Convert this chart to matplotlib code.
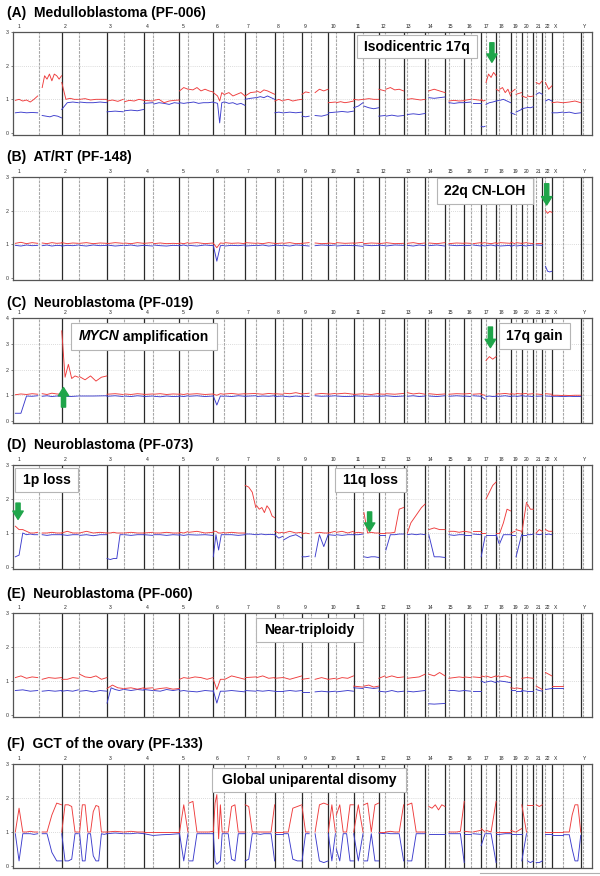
import matplotlib
matplotlib.use('Agg')
import matplotlib.pyplot as plt
from matplotlib.patches import Rectangle
from matplotlib.text import Annotation
import numpy as np

plt.rcParams['font.family'] = ['Liberation Sans', 'DejaVu Sans']

# ---------------- genome layout (Mb) ----------------
CHROMS = ['1', '2', '3', '4', '5', '6', '7', '8', '9', '10', '11', '12', '13',
          '14', '15', '16', '17', '18', '19', '20', '21', '22', 'X', 'Y']
LENGTHS = [249, 243, 198, 191, 181, 171, 159, 146, 141, 136, 135, 134, 115,
           107, 103, 90, 81, 78, 59, 63, 48, 51, 155, 59]
CENTROMERES = [125, 93, 91, 50, 48, 59, 60, 45, 49, 40, 53, 35, 17,
               17, 19, 36, 24, 17, 26, 28, 13, 15, 60, 12]
P_END = [121, 90, 88, 48, 46, 58, 58, 43, 39, 39, 51, 34, 0,
         0, 0, 35, 22, 15, 24, 26, 0, 0, 58, 10]
Q_START = [144, 96, 94, 53, 50, 62, 62, 48, 70, 43, 55, 38, 19,
           19, 20, 46, 26, 19, 28, 30, 14, 16, 62, 14]

# ---------------- series: chromosome -> (p-arm values, q-arm values) ----------------
A_RED = {
    '1': ([0.97, 1.0, 0.95, 0.98, 0.92, 1.0, 1.1], [1.35, 1.7, 1.6, 1.75, 1.55, 1.75, 1.7, 1.6, 1.7]),
    '2': ([1.5, 1.0, 1.03, 1.0, 1.0], [1.0, 1.02, 0.98, 1.0, 1.0, 1.0]),
    '3': ([0.95, 0.98, 0.94, 1.0], [0.93, 0.97, 0.95, 1.0, 0.97]),
    '4': ([0.97, 0.95], [0.97, 1.0, 0.9, 0.95, 0.97, 0.98]),
    '5': ([1.25, 1.35, 1.3], [1.3, 1.28, 1.35, 1.25, 1.3, 1.25, 1.22]),
    '6': ([1.2, 1.15, 1.1, 0.95, 1.2, 1.15], [1.15, 1.2, 1.1, 1.15, 1.2, 1.1]),
    '7': ([1.1, 1.2, 1.22], [1.25, 1.2, 1.28, 1.25, 1.2, 1.15]),
    '8': ([0.95, 1.0, 0.95], [0.97, 1.0, 0.95, 0.98, 1.0]),
    '9': ([1.15, 1.22, 1.2], [1.2, 1.3, 1.25, 1.3]),
    '10': ([0.9, 0.92], [0.9, 0.93, 0.9, 0.92, 0.95]),
    '11': ([1.0, 0.98, 1.0], [1.0, 1.02, 1.0, 1.0]),
    '12': ([1.3, 1.25], [1.3, 1.35, 1.28, 1.3, 1.25]),
    '13': ([], [1.0, 1.02, 1.0, 0.98, 1.0]),
    '14': ([], [1.25, 1.3, 1.25, 1.2]),
    '15': ([], [0.95, 0.97, 0.95, 0.96]),
    '16': ([0.97, 1.0], [1.0, 0.97]),
    '17': ([1.0, 0.95, 0.97], [1.5, 1.75, 1.65, 1.8, 1.7]),
    '18': ([1.3, 1.25], [1.3, 1.35, 1.2, 1.3, 1.1]),
    '19': ([1.2, 1.3], [1.15, 1.2]),
    '20': ([1.1, 1.05], [1.1, 1.08, 1.1]),
    '21': ([], [1.5, 1.45, 1.55]),
    '22': ([], [1.5, 1.3, 1.4]),
    'X': ([0.9, 0.92, 0.9], [0.9, 0.92, 0.95, 0.9]),
}
A_BLUE = {
    '1': ([0.6, 0.62, 0.6, 0.61, 0.6], [0.52, 0.5, 0.48, 0.52, 0.5, 0.45]),
    '2': ([0.7, 0.9, 0.92, 0.9], [0.92, 0.9, 0.9, 0.92, 0.9]),
    '3': ([0.63, 0.65, 0.63], [0.66, 0.68, 0.66, 0.7]),
    '4': ([0.88, 0.9], [0.86, 0.9, 0.88, 0.85, 0.9, 0.88]),
    '5': ([0.9, 0.88, 0.9], [0.9, 0.92, 0.88, 0.9, 0.9, 0.92]),
    '6': ([0.9, 0.9, 0.88, 0.3, 0.9, 0.92], [0.92, 0.88, 0.9, 0.85, 0.88, 0.82]),
    '7': ([1.0, 1.03, 1.05], [1.05, 1.08, 1.05, 1.1, 1.05, 1.0]),
    '8': ([0.6, 0.62, 0.6], [0.6, 0.62, 0.6, 0.62]),
    '9': ([0.5, 0.48, 0.5], [0.52, 0.5, 0.55]),
    '10': ([0.6, 0.62], [0.62, 0.64, 0.62, 0.65]),
    '11': ([0.75, 0.8, 0.9], [0.8, 0.75, 0.72, 0.75]),
    '12': ([0.5, 0.52], [0.5, 0.53, 0.5, 0.52]),
    '13': ([], [0.55, 0.57, 0.55, 0.58]),
    '14': ([], [1.05, 1.03, 1.05, 1.07]),
    '15': ([], [0.9, 0.88, 0.9, 0.9]),
    '16': ([0.9, 0.92], [0.9, 0.9]),
    '17': ([0.2, 0.18, 0.2], [0.85, 0.9, 0.92, 0.95]),
    '18': ([0.95, 0.97], [0.97, 1.0, 0.95, 0.9]),
    '19': ([0.6, 0.55], [0.62, 0.7]),
    '20': ([0.72, 0.75], [0.76, 0.75, 0.78]),
    '21': ([], [1.15, 1.2, 1.15]),
    '22': ([], [0.95, 1.0, 0.95]),
    'X': ([0.6, 0.6, 0.62], [0.6, 0.62, 0.58, 0.6]),
}

B_RED = {
    '1': ([1.03, 1.06, 1.02, 1.05, 1.03], [1.04, 1.02, 1.05, 1.03, 1.04]),
    '2': ([1.05, 1.02, 1.04, 1.03], [1.03, 1.05, 1.02, 1.04, 1.03]),
    '3': ([1.02, 1.05, 1.03], [1.04, 1.02, 1.05, 1.03]),
    '4': ([1.03, 1.05], [1.02, 1.04, 1.02, 1.03, 1.02]),
    '5': ([1.04, 1.02, 1.05], [1.03, 1.05, 1.02, 1.04]),
    '6': ([1.03, 0.9, 1.04, 1.03], [1.05, 1.03, 1.04, 1.02]),
    '7': ([1.05, 1.03], [1.04, 1.02, 1.05, 1.03]),
    '8': ([1.02, 1.04], [1.03, 1.05, 1.02, 1.03]),
    '9': ([1.03, 1.05], [1.04, 1.02, 1.03]),
    '10': ([1.04, 1.02], [1.05, 1.03, 1.04]),
    '11': ([1.03, 1.06], [1.02, 1.04, 1.03]),
    '12': ([1.02, 1.04], [1.05, 1.02, 1.03]),
    '13': ([], [1.03, 1.05, 1.02, 1.04]),
    '14': ([], [1.04, 1.02, 1.05]),
    '15': ([], [1.02, 1.04, 1.03]),
    '16': ([1.04, 1.03], [1.02, 1.05]),
    '17': ([1.03, 1.05], [1.04, 1.02, 1.05]),
    '18': ([1.02, 1.04], [1.05, 1.03]),
    '19': ([1.06, 1.02], [1.05, 1.03]),
    '20': ([1.03, 1.05], [1.04, 1.02]),
    '21': ([], [1.02, 1.03]),
    '22': ([], [2.0, 1.92, 1.98, 1.95]),
}
B_BLUE = {
    '1': ([0.97, 0.95, 0.98, 0.96, 0.97], [0.96, 0.98, 0.95, 0.97, 0.96]),
    '2': ([0.95, 0.97, 0.96, 0.98], [0.97, 0.95, 0.98, 0.96, 0.97]),
    '3': ([0.98, 0.95, 0.97], [0.96, 0.98, 0.95, 0.97]),
    '4': ([0.97, 0.95], [0.98, 0.96, 0.95, 0.97, 0.96]),
    '5': ([0.96, 0.98, 0.95], [0.97, 0.95, 0.98, 0.96]),
    '6': ([0.97, 0.5, 0.96, 0.97], [0.95, 0.97, 0.96, 0.98]),
    '7': ([0.95, 0.97], [0.96, 0.98, 0.95, 0.97]),
    '8': ([0.98, 0.96], [0.97, 0.95, 0.98, 0.97]),
    '9': ([0.97, 0.95], [0.96, 0.98, 0.97]),
    '10': ([0.96, 0.98], [0.95, 0.97, 0.96]),
    '11': ([0.97, 0.94], [0.98, 0.96, 0.97]),
    '12': ([0.98, 0.96], [0.95, 0.98, 0.97]),
    '13': ([], [0.97, 0.95, 0.98, 0.96]),
    '14': ([], [0.96, 0.98, 0.95]),
    '15': ([], [0.98, 0.96, 0.97]),
    '16': ([0.96, 0.97], [0.98, 0.95]),
    '17': ([0.97, 0.95], [0.96, 0.98, 0.95]),
    '18': ([0.98, 0.96], [0.95, 0.97]),
    '19': ([0.94, 0.98], [0.95, 0.97]),
    '20': ([0.97, 0.95], [0.96, 0.98]),
    '21': ([], [0.98, 0.97]),
    '22': ([], [0.35, 0.2, 0.18, 0.2]),
}

C_RED = {
    '1': ([1.02, 1.05, 1.03, 1.06, 1.04], [1.06, 1.03, 1.08, 1.05, 1.04]),
    '2': ([3.5, 1.7, 2.2, 1.65, 1.75, 1.7], [1.72, 1.6, 1.75, 1.55, 1.7, 1.75]),
    '3': ([1.04, 1.06, 1.03], [1.05, 1.03, 1.06, 1.04]),
    '4': ([1.03, 1.05], [1.04, 1.06, 1.03, 1.05, 1.04]),
    '5': ([1.05, 1.03, 1.06], [1.04, 1.06, 1.03, 1.05]),
    '6': ([1.04, 1.0, 1.06, 1.04], [1.05, 1.07, 1.04, 1.06]),
    '7': ([1.05, 1.07], [1.06, 1.04, 1.07, 1.05]),
    '8': ([1.06, 1.04], [1.08, 1.06, 1.1, 1.05]),
    '9': ([1.05, 1.08], [1.04, 1.07, 1.05]),
    '10': ([1.04, 1.07], [1.05, 1.08, 1.04]),
    '11': ([1.03, 1.06], [1.05, 1.03, 1.07]),
    '12': ([1.05, 1.04], [1.06, 1.04, 1.07]),
    '13': ([], [1.1, 1.05, 1.08, 1.04]),
    '14': ([], [1.06, 1.03, 1.05]),
    '15': ([], [1.04, 1.06, 1.05]),
    '16': ([1.05, 1.07], [1.04, 1.06]),
    '17': ([1.03, 1.0], [2.35, 2.5, 2.4, 2.5]),
    '18': ([1.04, 1.06], [1.05, 1.07, 1.04]),
    '19': ([1.06, 1.04], [1.07, 1.05]),
    '20': ([1.05, 1.07], [1.04, 1.06]),
    '21': ([], [1.05, 1.03]),
    '22': ([], [1.06, 1.04]),
    'X': ([1.0, 1.0, 0.99], [1.0, 0.99, 1.0, 1.0]),
}
C_BLUE = {
    '1': ([0.3, 0.3, 0.97, 0.96, 0.98], [0.96, 0.98, 0.95, 0.97, 0.96]),
    '2': ([0.97, 0.95, 0.97], [0.97, 0.97, 0.98]),
    '3': ([0.96, 0.98, 0.95], [0.97, 0.95, 0.98, 0.96]),
    '4': ([0.95, 0.97], [0.96, 0.94, 0.97, 0.95, 0.96]),
    '5': ([0.97, 0.95, 0.98], [0.96, 0.98, 0.95, 0.97]),
    '6': ([0.97, 0.62, 0.97, 0.96], [0.97, 0.95, 0.98, 0.96]),
    '7': ([0.96, 0.98], [0.95, 0.97, 0.96, 0.98]),
    '8': ([0.95, 0.97], [0.96, 0.94, 0.97, 0.95]),
    '9': ([0.97, 0.95], [0.98, 0.96, 0.97]),
    '10': ([0.96, 0.98], [0.97, 0.95, 0.96]),
    '11': ([0.98, 0.96], [0.95, 0.97, 0.96]),
    '12': ([0.96, 0.97], [0.98, 0.95, 0.97]),
    '13': ([], [0.96, 0.98, 0.95, 0.97]),
    '14': ([], [0.97, 0.95, 0.98]),
    '15': ([], [0.96, 0.98, 0.96]),
    '16': ([0.97, 0.95], [0.98, 0.96]),
    '17': ([0.95, 0.85], [0.95, 0.97, 0.95, 0.96]),
    '18': ([0.97, 0.95], [0.96, 0.98, 0.95]),
    '19': ([0.96, 0.97], [0.95, 0.98]),
    '20': ([0.98, 0.96], [0.97, 0.95]),
    '21': ([], [0.96, 0.97]),
    '22': ([], [0.97, 0.96]),
    'X': ([0.96, 0.96, 0.95], [0.95, 0.96, 0.95, 0.95]),
}

D_RED = {
    '1': ([1.2, 1.1, 1.1, 1.05, 1.0, 1.0, 1.02], [1.0, 1.0, 1.02, 1.0, 1.0]),
    '2': ([1.0, 1.05, 1.0, 1.0], [1.0, 1.05, 1.0, 1.02, 1.0]),
    '3': ([1.0, 1.0, 1.02, 1.0, 1.0, 1.0], [1.0, 1.02, 1.0, 1.0]),
    '4': ([1.0, 1.02], [1.0, 1.0, 1.02, 1.0, 1.0]),
    '5': ([1.02, 1.0, 1.04], [1.02, 1.05, 1.0, 1.02]),
    '6': ([1.05, 1.05, 1.0, 1.0, 1.02], [1.0, 1.02, 1.0, 1.0]),
    '7': ([2.4, 2.35, 2.2, 1.75], [1.8, 1.7, 1.75, 1.6, 1.8, 1.7, 1.5, 1.45]),
    '8': ([1.05, 1.0, 1.02], [1.0, 1.05, 1.0, 1.02]),
    '9': ([0.97, 1.0, 0.98], [1.0, 1.02, 1.0, 1.0]),
    '10': ([1.0, 1.05], [1.02, 1.05, 1.0, 1.05]),
    '11': ([1.0, 1.02, 1.0], [1.6, 1.0, 1.02, 1.0, 1.0]),
    '12': ([1.0, 1.0], [1.0, 1.0, 1.02, 1.7, 1.75]),
    '13': ([], [1.0, 1.3, 1.45, 1.6, 1.75, 1.85]),
    '14': ([], [1.1, 1.15, 1.1, 1.1]),
    '15': ([], [1.05, 1.05, 1.02, 1.05]),
    '16': ([1.05, 1.02], [1.05, 1.05]),
    '17': ([1.0, 1.0], [2.0, 2.2, 2.4, 2.5]),
    '18': ([1.0, 1.0], [1.0, 1.3, 1.7, 1.65]),
    '19': ([1.0, 1.05], [1.1, 1.05]),
    '20': ([1.0, 1.9], [1.85, 1.7, 1.7]),
    '21': ([], [1.0, 1.1, 1.05]),
    '22': ([], [1.1, 1.05, 1.05]),
}
D_BLUE = {
    '1': ([0.3, 0.35, 1.0, 0.95, 0.97, 0.95, 0.95], [0.95, 0.93, 0.95, 0.95, 0.95]),
    '2': ([0.95, 0.93, 0.95, 0.95], [0.93, 0.95, 0.92, 0.95, 0.95]),
    '3': ([0.25, 0.22, 0.25, 0.25, 0.95, 0.95], [0.95, 0.93, 0.95, 0.95]),
    '4': ([0.95, 0.93], [0.95, 0.95, 0.93, 0.95, 0.94]),
    '5': ([0.95, 0.93, 0.95], [0.95, 0.94, 0.95, 0.93]),
    '6': ([0.3, 0.95, 0.5, 0.95, 0.95], [0.95, 0.95, 0.93, 0.95]),
    '7': ([0.97, 0.97, 0.95], [0.95, 0.97, 0.95, 0.96, 0.95]),
    '8': ([0.95, 0.85, 0.9], [0.8, 0.9, 0.95, 0.85]),
    '9': ([0.3, 0.3, 0.32], [0.3, 0.95, 0.6, 0.95]),
    '10': ([0.95, 0.93], [0.95, 0.93, 0.95, 0.95]),
    '11': ([0.95, 0.95, 0.97], [0.3, 0.28, 0.3, 0.3, 0.28]),
    '12': ([0.95, 0.95], [0.5, 0.95, 0.95, 0.97, 0.97]),
    '13': ([], [0.95, 0.97, 0.95, 0.97, 0.95]),
    '14': ([], [0.95, 0.3, 0.3, 0.28]),
    '15': ([], [0.95, 0.93, 0.95, 0.95]),
    '16': ([0.95, 0.95], [0.97, 0.95]),
    '17': ([0.3, 0.9], [0.95, 0.95, 0.95]),
    '18': ([0.95, 0.7], [0.7, 0.95, 0.95, 0.95]),
    '19': ([0.95, 0.95], [0.3, 0.95]),
    '20': ([0.95, 0.95], [0.95, 0.95, 0.97]),
    '21': ([], [0.97, 0.95, 0.97]),
    '22': ([], [0.95, 0.97, 0.95]),
}

E_RED = {
    '1': ([1.1, 1.15, 1.08, 1.12, 1.1], [1.05, 1.1, 1.08, 1.1]),
    '2': ([1.05, 1.05, 1.1, 1.08], [1.2, 1.12, 1.1, 1.15, 1.05, 1.1]),
    '3': ([0.78, 0.88, 0.8, 0.78], [0.78, 0.8, 0.76, 0.8]),
    '4': ([0.78, 0.8], [0.75, 0.78, 0.8, 0.76, 0.78]),
    '5': ([1.05, 1.1, 1.08], [1.08, 1.12, 1.1, 1.05, 1.1]),
    '6': ([1.05, 0.75, 1.05, 1.05], [1.05, 1.15, 1.1, 1.05]),
    '7': ([1.1, 1.12], [1.1, 1.15, 1.08, 1.1]),
    '8': ([1.08, 1.1], [1.1, 1.05, 1.1, 1.15]),
    '9': ([1.05, 1.08], [1.05, 1.1, 1.05]),
    '10': ([1.05, 1.08], [1.05, 1.1, 1.08, 1.15]),
    '11': ([0.85, 0.82], [0.85, 0.88, 0.82, 0.85]),
    '12': ([1.08, 1.15], [1.1, 1.15, 1.1, 1.12]),
    '13': ([], [1.08, 1.1, 1.12, 1.2]),
    '14': ([], [1.2, 1.15, 1.25, 1.15]),
    '15': ([], [1.08, 1.1, 1.12, 1.1]),
    '16': ([1.12, 1.1], [1.12, 1.1]),
    '17': ([1.15, 1.12], [1.15, 1.1, 1.15]),
    '18': ([1.12, 1.15], [1.12, 1.15, 1.1]),
    '19': ([0.8, 0.78], [0.8, 0.77]),
    '20': ([1.08, 1.1], [1.1, 1.08]),
    '21': ([], [0.85, 0.8, 0.75]),
    '22': ([], [1.25, 1.15]),
    'X': ([0.85, 0.85], []),
}
E_BLUE = {
    '1': ([0.72, 0.74, 0.7, 0.72], [0.7, 0.72, 0.7, 0.72]),
    '2': ([0.7, 0.72, 0.7, 0.74], [0.7, 0.72, 0.68, 0.72, 0.7]),
    '3': ([0.35, 0.8, 0.75, 0.72, 0.75], [0.75, 0.72, 0.75, 0.73]),
    '4': ([0.75, 0.72], [0.72, 0.7, 0.75, 0.72, 0.75]),
    '5': ([0.7, 0.72, 0.7], [0.7, 0.68, 0.72, 0.7]),
    '6': ([0.72, 0.35, 0.7, 0.7], [0.7, 0.72, 0.7, 0.68]),
    '7': ([0.72, 0.7], [0.72, 0.7, 0.72, 0.7]),
    '8': ([0.7, 0.7], [0.7, 0.72, 0.7, 0.72]),
    '9': ([0.68, 0.68], [0.68, 0.7, 0.68]),
    '10': ([0.68, 0.7], [0.68, 0.7, 0.72, 0.7]),
    '11': ([0.8, 0.78], [0.82, 0.8, 0.78, 0.8]),
    '12': ([0.7, 0.68], [0.68, 0.72, 0.68, 0.7]),
    '13': ([], [0.7, 0.68, 0.7, 0.72]),
    '14': ([], [0.33, 0.32, 0.33, 0.34]),
    '15': ([], [0.72, 0.72, 0.7, 0.72]),
    '16': ([0.72, 0.7], [0.72, 0.72]),
    '17': ([1.0, 0.95], [0.97, 1.0, 0.95]),
    '18': ([1.0, 0.97], [1.0, 0.98, 0.95]),
    '19': ([0.75, 0.75], [0.72, 0.72]),
    '20': ([0.72, 0.7], [0.72, 0.72]),
    '21': ([], [0.75, 0.72, 0.7]),
    '22': ([], [0.75, 0.78]),
    'X': ([0.78, 0.78], []),
}

F_RED = {
    '1': ([1.0, 1.7, 1.0, 1.0, 1.02, 1.0, 1.0], [1.0, 1.0, 1.5, 1.85, 1.8]),
    '2': ([1.0, 1.8, 1.8, 1.75, 1.0, 1.0], [1.0, 1.8, 1.8, 1.0, 1.0, 1.6, 1.78, 1.75, 1.0, 1.0, 1.0]),
    '3': ([1.0, 1.02, 1.0], [1.0, 1.02, 1.0, 1.0]),
    '4': ([1.0, 1.0], [1.0, 1.0, 1.0, 1.0]),
    '5': ([1.0, 1.8, 1.0], [1.85, 1.9, 1.0, 1.0, 1.0, 1.0, 1.02]),
    '6': ([1.0, 1.85, 2.1, 0.8, 1.8, 1.0, 1.0], [1.0, 1.0, 1.75, 1.8, 1.0, 1.0, 1.0]),
    '7': ([1.8, 1.75, 1.0, 1.0], [1.0, 1.0, 1.0, 1.0, 1.0, 1.8]),
    '8': ([1.0, 1.0, 1.0], [1.0, 1.0, 1.7, 1.75, 1.8]),
    '9': ([1.75, 1.0, 1.0], [1.0, 1.8, 1.85, 1.8]),
    '10': ([1.0, 1.8, 1.0], [1.5, 1.8, 1.0, 1.0, 1.8, 1.8]),
    '11': ([1.0, 1.8, 1.0], [1.8, 1.85, 1.0, 1.8, 1.85]),
    '12': ([1.0, 1.0], [1.0, 1.02, 1.0, 1.0, 1.8]),
    '13': ([], [1.8, 1.85, 1.0, 1.0, 1.0]),
    '14': ([], [1.75, 1.7, 1.8, 1.65, 1.8, 1.75]),
    '15': ([], [1.0, 1.0, 1.0, 1.02, 1.9]),
    '16': ([1.02, 1.0], [1.0, 1.05]),
    '17': ([1.1, 1.0], [1.05, 1.0, 1.9]),
    '18': ([1.0, 1.0], [1.0, 1.0, 1.0]),
    '19': ([1.05, 1.0], [1.0, 1.1]),
    '20': ([1.8, 1.0], [1.8, 1.8, 1.8]),
    '21': ([], [1.8, 1.75, 1.8]),
    '22': ([], [1.0, 1.0]),
    'X': ([1.0, 1.0, 1.0], [1.0, 1.0, 1.0, 1.5, 1.8, 1.8, 1.0]),
}
F_BLUE = {
    '1': ([0.95, 0.15, 0.95, 0.95, 0.95, 0.93, 0.95], [0.95, 0.95, 0.4, 0.15, 0.15]),
    '2': ([0.95, 0.15, 0.15, 0.2, 0.95, 0.95], [0.95, 0.15, 0.15, 0.95, 0.95, 0.3, 0.15, 0.15, 0.95, 0.93, 0.95]),
    '3': ([0.95, 0.97, 0.95], [0.95, 0.95, 0.97, 0.95]),
    '4': ([0.95, 0.9], [0.9, 0.92, 0.93, 0.95]),
    '5': ([0.95, 0.15, 0.95], [0.15, 0.15, 0.95, 0.95, 0.95, 0.95, 0.95]),
    '6': ([0.95, 0.15, 0.05, 0.1, 0.15, 0.95, 0.95], [0.95, 0.95, 0.2, 0.15, 0.95, 0.95, 0.95]),
    '7': ([0.15, 0.2, 0.95, 0.95], [0.95, 0.93, 0.95, 0.95, 0.95, 0.15]),
    '8': ([0.95, 0.95, 0.95], [0.95, 0.95, 0.2, 0.15, 0.15]),
    '9': ([0.15, 0.95, 0.95], [0.95, 0.15, 0.1, 0.15]),
    '10': ([0.95, 0.15, 0.95], [0.5, 0.15, 0.95, 0.95, 0.15, 0.15]),
    '11': ([0.95, 0.15, 0.95], [0.15, 0.15, 0.95, 0.15, 0.15]),
    '12': ([0.97, 0.95], [0.97, 0.95, 0.95, 0.95, 0.15]),
    '13': ([], [0.15, 0.15, 0.95, 0.95, 0.95]),
    '14': ([], [0.95, 0.95, 0.95, 0.95, 0.95, 0.95]),
    '15': ([], [0.95, 0.95, 0.95, 0.95, 0.1]),
    '16': ([0.95, 0.95], [0.95, 0.93]),
    '17': ([0.6, 0.95], [0.95, 0.95, 0.1]),
    '18': ([0.95, 0.95], [0.93, 0.95, 0.95]),
    '19': ([0.95, 0.95], [0.95, 0.95]),
    '20': ([0.15, 0.95], [0.15, 0.1, 0.15]),
    '21': ([], [0.1, 0.1, 0.15]),
    '22': ([], [0.95, 0.95]),
    'X': ([0.92, 0.92, 0.92], [0.92, 0.92, 0.92, 0.5, 0.15, 0.15, 0.9]),
}

TITLES = ['(A)  Medulloblastoma (PF-006)', '(B)  AT/RT (PF-148)',
          '(C)  Neuroblastoma (PF-019)', '(D)  Neuroblastoma (PF-073)',
          '(E)  Neuroblastoma (PF-060)', '(F)  GCT of the ovary (PF-133)']
Y_MAX = [3, 3, 4, 3, 3, 3]

# ---------------- layout (pixels of the 600x876 canvas) ----------------
W, H = 600, 876
LEFT, RIGHT = 13, 592
FRAMES = [(32, 135), (177, 280), (318, 423), (465, 569), (613, 717), (764, 868)]
TITLE_Y = [13, 157, 303, 445, 594, 744]

RED = '#ee3b3b'
BLUE = '#3b3bcc'
GREEN = '#1fa54a'

fig = plt.figure(figsize=(W / 100, H / 100), dpi=100)

offsets = np.concatenate([[0], np.cumsum(LENGTHS)[:-1]])
total = float(np.sum(LENGTHS))


def px2fig(x, y):
    return x / W, 1 - y / H


def draw_series(ax, data, color, z):
    for i, c in enumerate(CHROMS):
        if c not in data:
            continue
        p_vals, q_vals = data[c]
        arms = [(0.0, P_END[i], p_vals), (Q_START[i], LENGTHS[i], q_vals)]
        for start, end, vals in arms:
            vals = list(vals)
            if not vals:
                continue
            if len(vals) == 1:
                vals = vals * 2
            xs = offsets[i] + np.linspace(start + 0.5, end - 0.5, len(vals))
            ax.plot(xs, vals, color=color, lw=0.65, zorder=z, solid_joinstyle='round')


axes = []
series = [(A_RED, A_BLUE), (B_RED, B_BLUE), (C_RED, C_BLUE),
          (D_RED, D_BLUE), (E_RED, E_BLUE), (F_RED, F_BLUE)]
for k, ((top, bot), (red, blue)) in enumerate(zip(FRAMES, series)):
    x0, y0 = px2fig(LEFT, bot)
    ax = fig.add_axes([x0, y0, (RIGHT - LEFT) / W, (bot - top) / H])
    ymax = Y_MAX[k]
    ax.set_xlim(-12, total + 1)
    pad = 2.0 * ymax / (bot - top - 2.0)
    ax.set_ylim(-pad, ymax)
    for s in ax.spines.values():
        s.set_color('#555555')
        s.set_linewidth(0.9)
    ax.set_xticks([])
    ax.set_yticks(range(0, ymax + 1))
    ax.tick_params(axis='y', length=1.5, width=0.5, pad=1.5, labelsize=3.8,
                   labelcolor='#333333', color='#555555')
    for g in range(1, ymax):
        ax.axhline(g, color='#cfcfcf', lw=0.6, ls=(0, (1, 1.5)), zorder=1)
    for i, c in enumerate(CHROMS):
        if i > 0:
            ax.axvline(offsets[i], color='#2a2a2a', lw=0.9, zorder=2)
        ax.axvline(offsets[i] + CENTROMERES[i], color='#a8a8a8', lw=0.8,
                   ls=(0, (2.5, 1)), zorder=2)
        ax.annotate(c, xy=(offsets[i], 1.0), xycoords=('data', 'axes fraction'),
                    xytext=(1.5, 2.0), textcoords='offset points',
                    ha='left', va='bottom', fontsize=3.6, color='#222222',
                    annotation_clip=False)
    draw_series(ax, blue, BLUE, 3)
    draw_series(ax, red, RED, 4)
    fx, fy = px2fig(7, TITLE_Y[k])
    fig.text(fx, fy, TITLES[k], fontsize=10, fontweight='bold', ha='left', va='center')
    axes.append(ax)


def add_box(x0, y0, x1, y1):
    fx0, fy1 = px2fig(x0, y1)
    fig.add_artist(Rectangle((fx0, fy1), (x1 - x0) / W, (y1 - y0) / H,
                             transform=fig.transFigure, facecolor='white',
                             edgecolor='#b5b5b5', lw=0.8, zorder=5))


def box_label(x0, y0, x1, y1, text):
    add_box(x0, y0, x1, y1)
    fx, fy = px2fig((x0 + x1) / 2, (y0 + y1) / 2)
    fig.text(fx, fy, text, fontsize=10, fontweight='bold', ha='center',
             va='center', zorder=6)


box_label(357, 35, 477, 58, 'Isodicentric 17q')
box_label(437, 178, 533, 204, '22q CN-LOH')
add_box(71, 323, 217, 350)
fx, fy = px2fig(78.5, 336.5)
t_mycn = fig.text(fx, fy, 'MYCN', fontsize=10, fontweight='bold', style='italic',
                  ha='left', va='center', zorder=6)
fig.add_artist(Annotation(' amplification', xy=(1, 0.5), xycoords=t_mycn, ha='left',
                          va='center', fontsize=10, fontweight='bold', zorder=6))
box_label(499, 323, 570, 349, '17q gain')
box_label(15, 468, 78, 492, '1p loss')
box_label(335, 468, 406, 492, '11q loss')
box_label(256, 618, 363, 642, 'Near-triploidy')
box_label(212, 768, 406, 792, 'Global uniparental disomy')


def arrow(ax, chrom, pos, y_tail, y_head):
    i = CHROMS.index(chrom)
    x = offsets[i] + pos
    ax.annotate('', xy=(x, y_head), xytext=(x, y_tail),
                arrowprops=dict(arrowstyle='simple,head_width=0.75,head_length=0.6,tail_width=0.3',
                                color=GREEN, shrinkA=0, shrinkB=0, mutation_scale=10),
                annotation_clip=False, zorder=7)


arrow(axes[0], '17', 58, 2.68, 2.1)
arrow(axes[1], '22', 23, 2.8, 2.17)
arrow(axes[2], '2', 10, 0.54, 1.3)
arrow(axes[2], '17', 50, 3.65, 2.85)
arrow(axes[3], '1', 15, 1.88, 1.4)
arrow(axes[3], '11', 86, 1.62, 1.05)

fig.add_artist(plt.Line2D([480 / W, 1.0], [1 - 873 / H, 1 - 873 / H],
                          transform=fig.transFigure, color='#b0b0b0', lw=0.8))

fig.savefig('out.png', dpi=100)
